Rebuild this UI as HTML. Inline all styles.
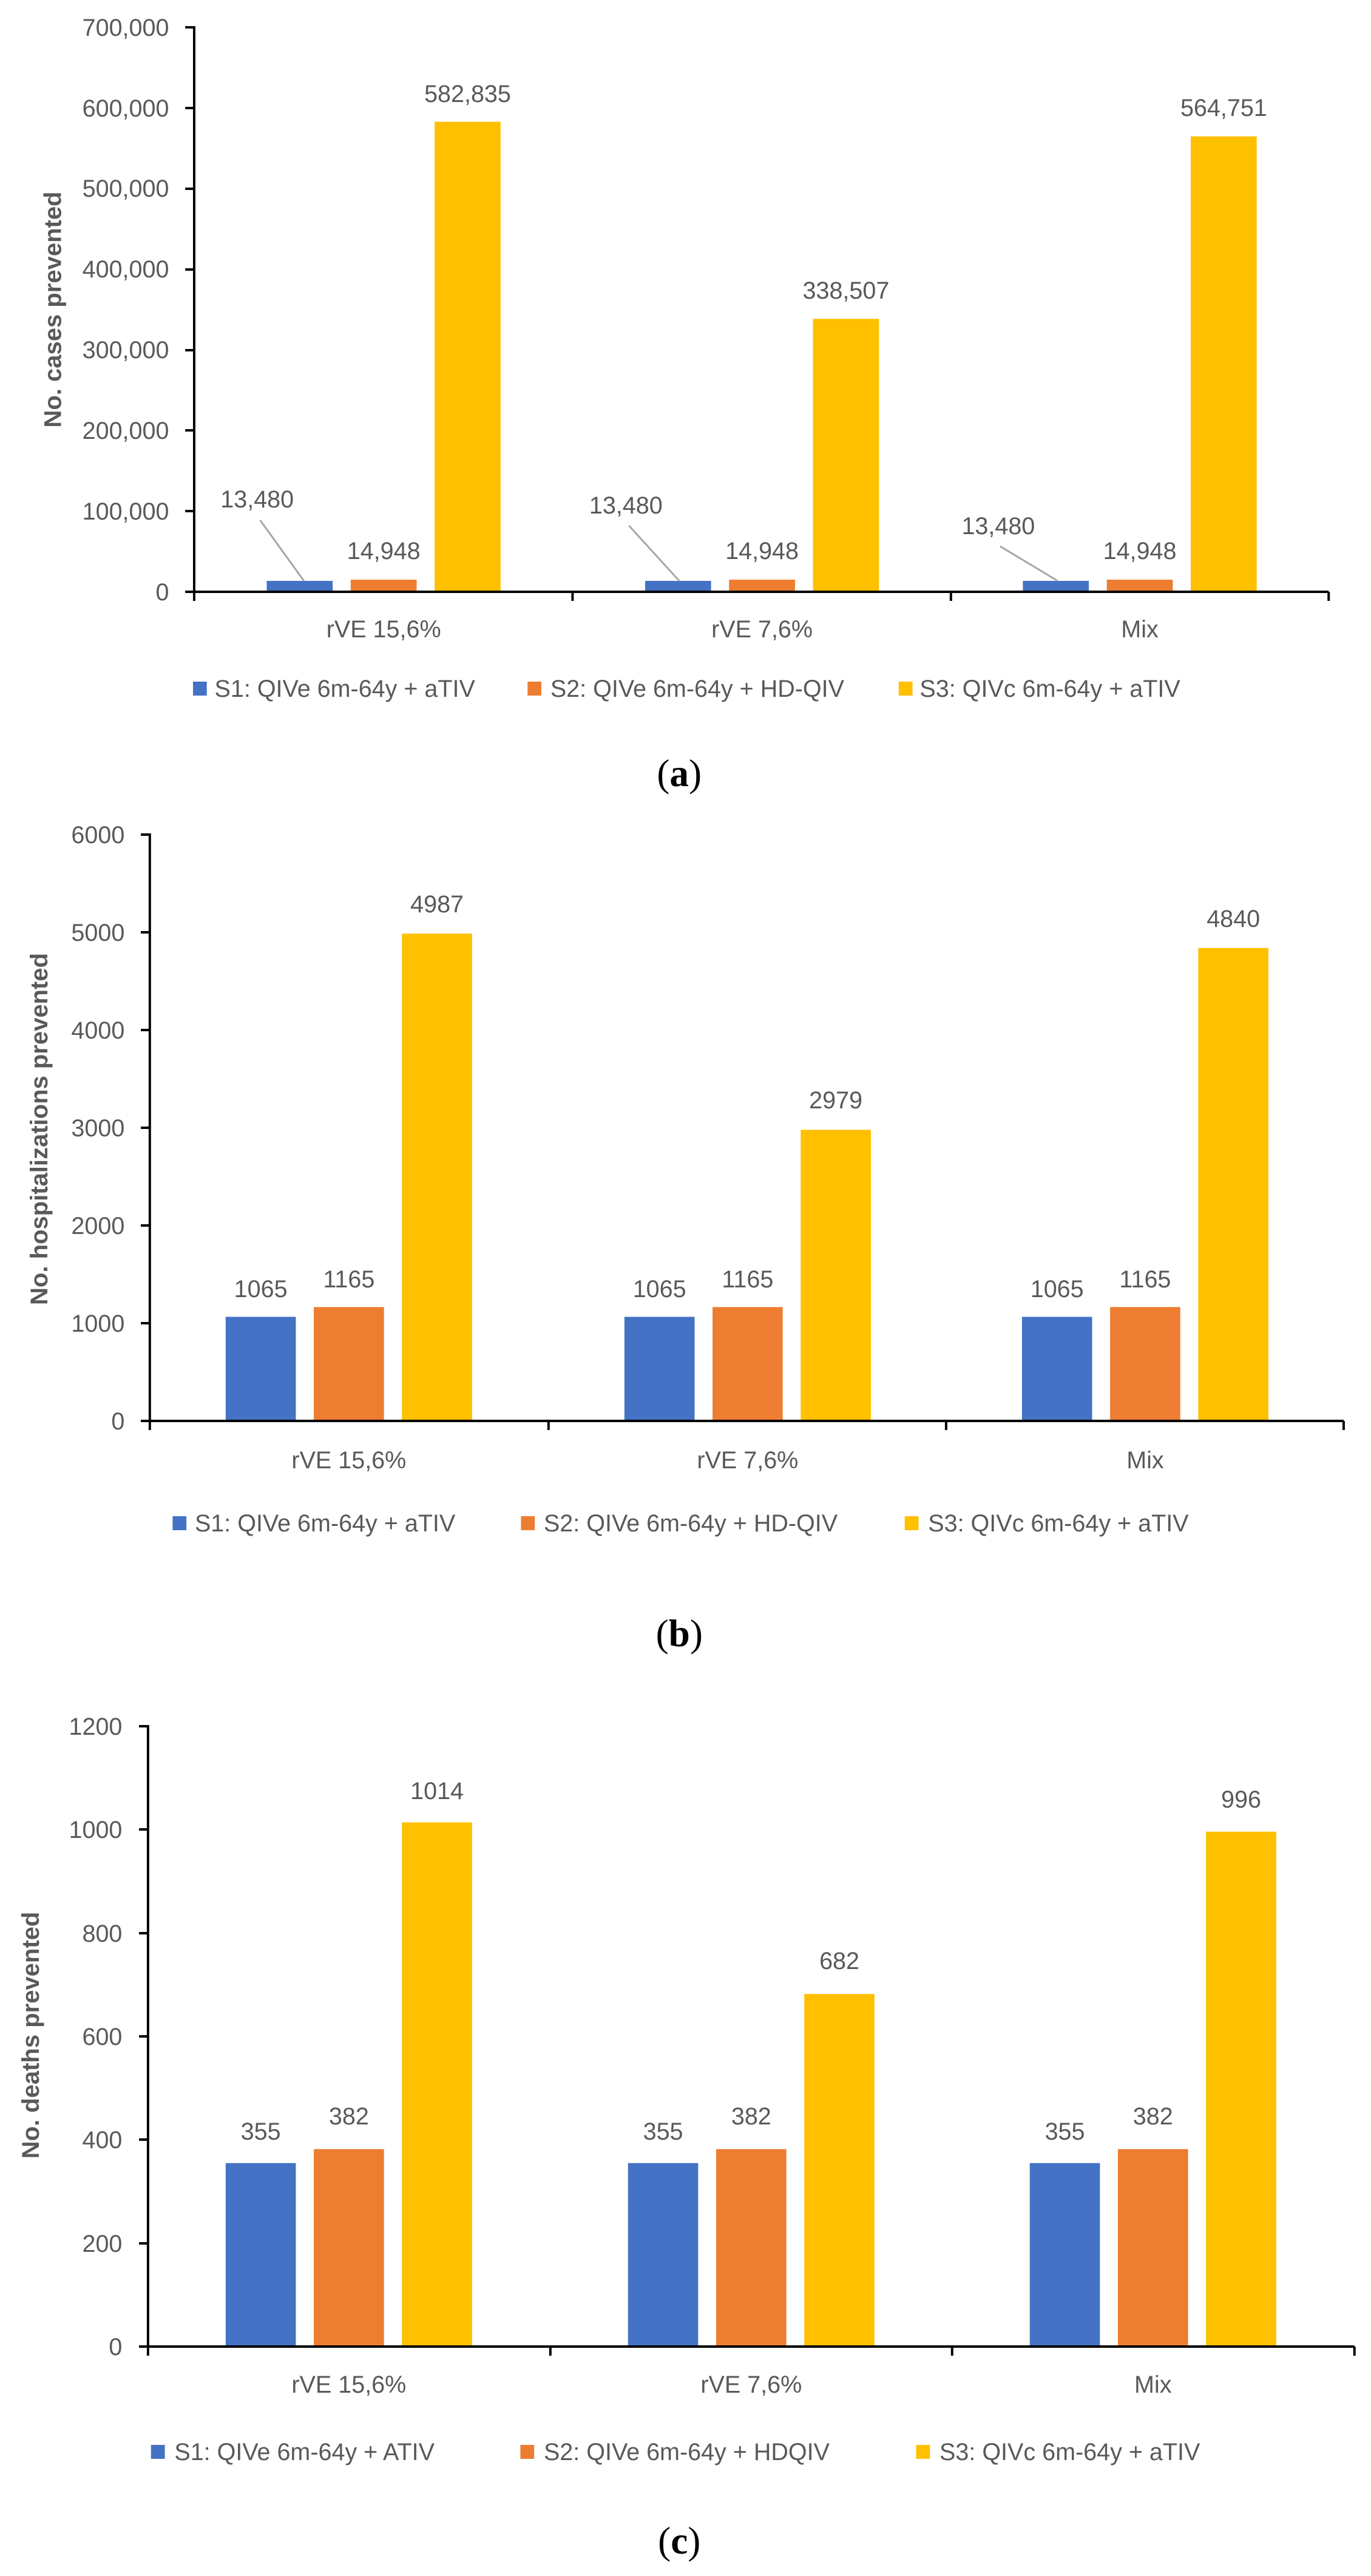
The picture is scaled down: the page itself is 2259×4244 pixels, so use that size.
<!DOCTYPE html>
<html><head><meta charset="utf-8"><style>
html,body{margin:0;padding:0;background:#fff;}
svg{display:block;}
.t{font-family:"Liberation Sans",sans-serif;font-size:40px;fill:#595959;}
.yl{font-family:"Liberation Sans",sans-serif;font-size:40px;fill:#595959;font-weight:bold;}
.cap{font-family:"Liberation Serif",serif;font-size:64px;fill:#000;}
</style></head><body>
<svg width="2259" height="4244" viewBox="0 0 2259 4244" xmlns="http://www.w3.org/2000/svg">
<rect width="2259" height="4244" fill="#fff"/>
<g transform="matrix(0.988 0 0 1 3.8 0)">

<!-- ===== Chart A ===== -->
<g class="t" text-anchor="end">
<text x="278" y="989">0</text>
<text x="278" y="856">100,000</text>
<text x="278" y="723">200,000</text>
<text x="278" y="590">300,000</text>
<text x="278" y="457">400,000</text>
<text x="278" y="324">500,000</text>
<text x="278" y="192">600,000</text>
<text x="278" y="59">700,000</text>
</g>
<text class="yl" transform="translate(98,510) rotate(-90)" text-anchor="middle">No. cases prevented</text>
<g fill="#4472C4"><rect x="441" y="957" width="110" height="18"/><rect x="1072" y="957" width="110" height="18"/><rect x="1702" y="957" width="110" height="18"/></g>
<g fill="#ED7D31"><rect x="581" y="955" width="110" height="20"/><rect x="1212" y="955" width="110" height="20"/><rect x="1842" y="955" width="110" height="20"/></g>
<g fill="#FFC000"><rect x="721" y="200.6" width="110" height="774.4"/><rect x="1352" y="525.3" width="110" height="449.7"/><rect x="1982" y="224.7" width="110" height="750.3"/></g>
<g stroke="#000" stroke-width="4" fill="none">
<line x1="320" y1="43" x2="320" y2="990"/>
<line x1="318" y1="975" x2="2212" y2="975"/>
<line x1="305" y1="45" x2="320" y2="45"/><line x1="305" y1="178" x2="320" y2="178"/><line x1="305" y1="311" x2="320" y2="311"/><line x1="305" y1="444" x2="320" y2="444"/><line x1="305" y1="577" x2="320" y2="577"/><line x1="305" y1="709" x2="320" y2="709"/><line x1="305" y1="842" x2="320" y2="842"/><line x1="305" y1="975" x2="320" y2="975"/>
<line x1="951" y1="975" x2="951" y2="990"/><line x1="1582" y1="975" x2="1582" y2="990"/><line x1="2212" y1="975" x2="2212" y2="990"/>
</g>
<g stroke="#A6A6A6" stroke-width="3"><line x1="430" y1="857" x2="503" y2="957"/><line x1="1045" y1="866" x2="1129" y2="957"/><line x1="1664" y1="900" x2="1760" y2="957"/></g>
<g class="t" text-anchor="middle">
<text x="776" y="168">582,835</text><text x="1407" y="492">338,507</text><text x="2037" y="191">564,751</text>
<text x="425" y="836">13,480</text><text x="1040" y="846">13,480</text><text x="1661" y="880">13,480</text>
<text x="636" y="921">14,948</text><text x="1267" y="921">14,948</text><text x="1897" y="921">14,948</text>
<text x="636" y="1050">rVE 15,6%</text><text x="1267" y="1050">rVE 7,6%</text><text x="1897" y="1050">Mix</text>
</g>
<rect x="318" y="1123" width="23" height="23" fill="#4472C4"/><text class="t" x="354" y="1148">S1: QIVe 6m-64y + aTIV</text>
<rect x="876" y="1123" width="23" height="23" fill="#ED7D31"/><text class="t" x="914" y="1148">S2: QIVe 6m-64y + HD-QIV</text>
<rect x="1495" y="1123" width="23" height="23" fill="#FFC000"/><text class="t" x="1530" y="1148">S3: QIVc 6m-64y + aTIV</text>
<text class="cap" x="1129" y="1295" text-anchor="middle">(<tspan font-weight="bold">a</tspan>)</text>

<!-- ===== Chart B ===== -->
<g class="t" text-anchor="end">
<text x="204" y="2355">0</text><text x="204" y="2194">1000</text><text x="204" y="2033">2000</text><text x="204" y="1872">3000</text><text x="204" y="1711">4000</text><text x="204" y="1550">5000</text><text x="204" y="1389">6000</text>
</g>
<text class="yl" transform="translate(75,1860) rotate(-90)" text-anchor="middle">No. hospitalizations prevented</text>
<g fill="#4472C4"><rect x="372.5" y="2169.5" width="117" height="171.5"/><rect x="1037.5" y="2169.5" width="117" height="171.5"/><rect x="1700.5" y="2169.5" width="117" height="171.5"/></g>
<g fill="#ED7D31"><rect x="519.5" y="2153.4" width="117" height="187.6"/><rect x="1184.5" y="2153.4" width="117" height="187.6"/><rect x="1847.5" y="2153.4" width="117" height="187.6"/></g>
<g fill="#FFC000"><rect x="666.5" y="1538.1" width="117" height="802.9"/><rect x="1331.5" y="1861.4" width="117" height="479.6"/><rect x="1994.5" y="1561.8" width="117" height="779.2"/></g>
<g stroke="#000" stroke-width="4" fill="none">
<line x1="246" y1="1373" x2="246" y2="2356"/>
<line x1="244" y1="2341" x2="2237" y2="2341"/>
<line x1="231" y1="1375" x2="246" y2="1375"/><line x1="231" y1="1536" x2="246" y2="1536"/><line x1="231" y1="1697" x2="246" y2="1697"/><line x1="231" y1="1858" x2="246" y2="1858"/><line x1="231" y1="2019" x2="246" y2="2019"/><line x1="231" y1="2180" x2="246" y2="2180"/><line x1="231" y1="2341" x2="246" y2="2341"/>
<line x1="911" y1="2341" x2="911" y2="2356"/><line x1="1574" y1="2341" x2="1574" y2="2356"/><line x1="2237" y1="2341" x2="2237" y2="2356"/>
</g>
<g class="t" text-anchor="middle">
<text x="431" y="2137">1065</text><text x="1096" y="2137">1065</text><text x="1759" y="2137">1065</text>
<text x="578" y="2121">1165</text><text x="1243" y="2121">1165</text><text x="1906" y="2121">1165</text>
<text x="725" y="1503">4987</text><text x="1390" y="1826">2979</text><text x="2053" y="1527">4840</text>
<text x="578" y="2419">rVE 15,6%</text><text x="1243" y="2419">rVE 7,6%</text><text x="1906" y="2419">Mix</text>
</g>
<rect x="284" y="2498" width="23" height="23" fill="#4472C4"/><text class="t" x="321" y="2523">S1: QIVe 6m-64y + aTIV</text>
<rect x="865" y="2498" width="23" height="23" fill="#ED7D31"/><text class="t" x="903" y="2523">S2: QIVe 6m-64y + HD-QIV</text>
<rect x="1505" y="2498" width="23" height="23" fill="#FFC000"/><text class="t" x="1544" y="2523">S3: QIVc 6m-64y + aTIV</text>
<text class="cap" x="1129" y="2712" text-anchor="middle">(<tspan font-weight="bold">b</tspan>)</text>

<!-- ===== Chart C ===== -->
<g class="t" text-anchor="end">
<text x="200" y="3880">0</text><text x="200" y="3710">200</text><text x="200" y="3539">400</text><text x="200" y="3369">600</text><text x="200" y="3199">800</text><text x="200" y="3028">1000</text><text x="200" y="2858">1200</text>
</g>
<text class="yl" transform="translate(61,3353) rotate(-90)" text-anchor="middle">No. deaths prevented</text>
<g fill="#4472C4"><rect x="372.5" y="3563.7" width="117" height="302.3"/><rect x="1043.5" y="3563.7" width="117" height="302.3"/><rect x="1713.5" y="3563.7" width="117" height="302.3"/></g>
<g fill="#ED7D31"><rect x="519.5" y="3540.7" width="117" height="325.3"/><rect x="1190.5" y="3540.7" width="117" height="325.3"/><rect x="1860.5" y="3540.7" width="117" height="325.3"/></g>
<g fill="#FFC000"><rect x="666.5" y="3002.4" width="117" height="863.6"/><rect x="1337.5" y="3285.1" width="117" height="580.9"/><rect x="2007.5" y="3017.7" width="117" height="848.3"/></g>
<g stroke="#000" stroke-width="4" fill="none">
<line x1="243" y1="2842" x2="243" y2="3881"/>
<line x1="241" y1="3866" x2="2255" y2="3866"/>
<line x1="228" y1="2844" x2="243" y2="2844"/><line x1="228" y1="3014" x2="243" y2="3014"/><line x1="228" y1="3185" x2="243" y2="3185"/><line x1="228" y1="3355" x2="243" y2="3355"/><line x1="228" y1="3525" x2="243" y2="3525"/><line x1="228" y1="3696" x2="243" y2="3696"/><line x1="228" y1="3866" x2="243" y2="3866"/>
<line x1="914" y1="3866" x2="914" y2="3881"/><line x1="1584" y1="3866" x2="1584" y2="3881"/><line x1="2255" y1="3866" x2="2255" y2="3881"/>
</g>
<g class="t" text-anchor="middle">
<text x="431" y="3525">355</text><text x="1102" y="3525">355</text><text x="1772" y="3525">355</text>
<text x="578" y="3500">382</text><text x="1249" y="3500">382</text><text x="1919" y="3500">382</text>
<text x="725" y="2964">1014</text><text x="1396" y="3244">682</text><text x="2066" y="2978">996</text>
<text x="578" y="3942">rVE 15,6%</text><text x="1249" y="3942">rVE 7,6%</text><text x="1919" y="3942">Mix</text>
</g>
<rect x="248" y="4028" width="23" height="23" fill="#4472C4"/><text class="t" x="287" y="4053">S1: QIVe 6m-64y + ATIV</text>
<rect x="864" y="4028" width="23" height="23" fill="#ED7D31"/><text class="t" x="903" y="4053">S2: QIVe 6m-64y + HDQIV</text>
<rect x="1524" y="4028" width="23" height="23" fill="#FFC000"/><text class="t" x="1563" y="4053">S3: QIVc 6m-64y + aTIV</text>
<text class="cap" x="1129" y="4207" text-anchor="middle">(<tspan font-weight="bold">c</tspan>)</text>
</g>
</svg>
</body></html>
